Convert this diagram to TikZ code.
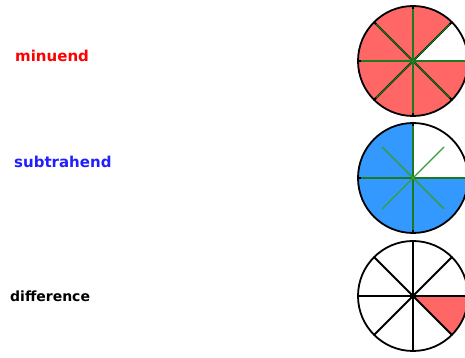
\documentclass[tikz,border=0pt]{standalone}
\usepackage{fontspec}
\setmainfont{DejaVu Sans}
\usepackage{xcolor}
\usepackage{tikz}
\definecolor{piered}{HTML}{FF6666}
\definecolor{pieblue}{HTML}{3399FF}
\definecolor{labblue}{HTML}{2020FF}
\definecolor{spokegreen}{HTML}{1E7A1E}
\definecolor{lightgreen}{HTML}{33A033}

\begin{document}
\begin{tikzpicture}[x=1pt,y=1pt,
  lab/.style={font=\bfseries\fontsize{15}{17}\selectfont, anchor=west, inner sep=0pt},
  rim/.style={draw=black, line width=1.8pt},
  spoke/.style={line width=1.8pt, black},
  greenspoke/.style={line width=1.1pt, spokegreen}]
\useasboundingbox (0,0) rectangle (465,358);
% centres of the three pies
\coordinate (m) at (413,297);
\coordinate (s) at (413,180);
\coordinate (d) at (413,62);
% labels
\node[lab, red] (mlab) at (15,302.5) {minuend};
\node[lab, labblue] (slab) at (14,196.5) {subtrahend};
\node[lab, font=\bfseries\fontsize{14}{16}\selectfont] (dlab) at (10,62) {difference};
% minuend: seven eighths
\fill[piered] (m) -- ++(45:55) arc[start angle=45, end angle=360, radius=55] -- cycle;
\foreach \a in {0,45,...,315} \draw[spoke] (m) -- ++(\a:55);
\foreach \a in {0,45,...,315} \draw[greenspoke] (m) -- ++(\a:52);
\draw[rim] (m) circle[radius=55];
\fill[spokegreen] (m) circle[radius=3];
% subtrahend: six eighths
\fill[pieblue] (s) -- ++(90:55) arc[start angle=90, end angle=360, radius=55] -- cycle;
\foreach \a in {0,90,180,270} \draw[spoke] (s) -- ++(\a:55);
\foreach \a in {0,90,180,270} \draw[greenspoke] (s) -- ++(\a:52);
\foreach \a in {45,135,225,315} \draw[lightgreen, line width=1.4pt] (s) -- ++(\a:44);
\draw[rim] (s) circle[radius=55];
% difference: one eighth
\fill[piered] (d) -- ++(0:55) arc[start angle=0, end angle=-45, radius=55] -- cycle;
\foreach \a in {0,45,...,315} \draw[spoke] (d) -- ++(\a:55);
\draw[rim] (d) circle[radius=55];
\fill (d) circle[radius=3];
\end{tikzpicture}
\end{document}
